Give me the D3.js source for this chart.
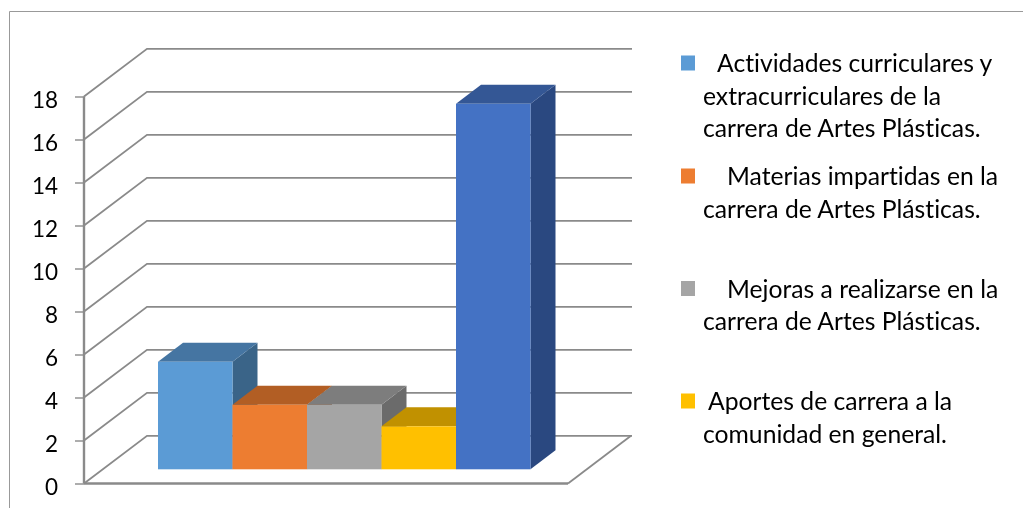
<!DOCTYPE html>
<html><head><meta charset="utf-8">
<script src="https://cdn.jsdelivr.net/npm/d3@7"></script>
<style>html,body{margin:0;padding:0;background:#fff;overflow:hidden}svg{display:block;filter:blur(0.35px)}text{font-family:Lato,Carlito,"Open Sans",sans-serif;fill:#000;font-variant-ligatures:none}</style>
</head><body><svg id="c" width="1023" height="508"></svg>
<script>
const barKeys = ["a","b","c","d","e"];
const barValues = [5,3,3,2,17];
const faceColors = ["#5b9bd5","#ed7d31","#a5a5a5","#ffc000","#4472c4"];
const topColors = ["#4575a2","#b25e24","#7d7d7d","#c19100","#345795"];
const sideColors = ["#3a6488","#9a5220","#6b6b6b","#a67d00","#2a4880"];
const yTicks = [0,2,4,6,8,10,12,14,16,18];
const legendLabels = [
  ["Actividades curriculares y","extracurriculares de la","carrera de Artes Plásticas."],
  ["Materias impartidas en la","carrera de Artes Plásticas."],
  ["Mejoras a realizarse en la","carrera de Artes Plásticas."],
  ["Aportes de carrera a la","comunidad en general."]
];
const legendColors = ["#5b9bd5","#ed7d31","#a5a5a5","#ffc000"];

const svg = d3.select("#c");
const y = d3.scaleLinear().domain([0,18]).range([483.5,96.5]);
const depthX = 63, depthY = -47.7;
const x0 = 84, x1 = 568;
const gridColor = "#8a8a8a";
svg.append("path").attr("d","M9.5,508V11.5H1023").attr("fill","none").attr("stroke","#999").attr("stroke-width",1);
const g = svg.append("g").attr("fill","none").attr("stroke",gridColor).attr("stroke-width",1.8);
yTicks.forEach(t=>{
  g.append("path").attr("d",`M${x0},${y(t)}L${x0+depthX},${y(t)+depthY}H${x1+depthX+1}`);
});
g.append("path").attr("d",`M${x1+depthX},${y(0)+depthY}L${x1},${y(0)}`);
g.append("path").attr("d",`M${x0},${y(0)}H${x1}`).attr("stroke-width",2.4);
g.append("path").attr("d",`M${x0},${y(18)}V${y(0)}`).attr("stroke-width",2.4);
const axis = d3.axisLeft(y).tickValues(yTicks).tickSize(9).tickPadding(17).tickFormat(d3.format("d"));
const ax = svg.append("g").attr("transform",`translate(${x0},0)`).call(axis);
ax.select(".domain").remove();
ax.selectAll("line").attr("stroke",gridColor).attr("stroke-width",1.4);
ax.selectAll("text").attr("font-size",22.5).attr("dy","0.47em");
const bx = d3.scaleBand().domain(barKeys).range([158,530.5]);
const base = 469.3, unit = y(0)-y(1);
const bd = {dx:25, dy:-19};
const bars = svg.append("g");
barKeys.forEach((k,i)=>{
  const l = bx(k), r = l+bx.bandwidth(), t = base-barValues[i]*unit;
  const b = bars.append("g");
  b.append("path").attr("d",`M${r},${t}L${r+bd.dx},${t+bd.dy}V${base+bd.dy}L${r},${base}Z`).attr("fill",sideColors[i]);
  b.append("path").attr("d",`M${l},${t}L${l+bd.dx},${t+bd.dy}H${r+bd.dx}L${r},${t}Z`).attr("fill",topColors[i]);
  b.append("rect").attr("x",l).attr("y",t).attr("width",bx.bandwidth()).attr("height",base-t).attr("fill",faceColors[i]);
});
// legend layout
const entryY = [63,176,288.5,401];
const firstLineX = [717,727,727,708];
const restLineX = 703, lineStep = 32.5;
const lg = svg.append("g");
legendLabels.forEach((lines,i)=>{
  lg.append("rect").attr("x",681).attr("y",entryY[i]-7.5).attr("width",14).attr("height",15).attr("fill",legendColors[i]);
  lines.forEach((s,j)=>{
    lg.append("text").attr("x",j?restLineX:firstLineX[i]).attr("y",entryY[i]+9+j*lineStep).attr("font-size",24.7).text(s);
  });
});
</script></body></html>
